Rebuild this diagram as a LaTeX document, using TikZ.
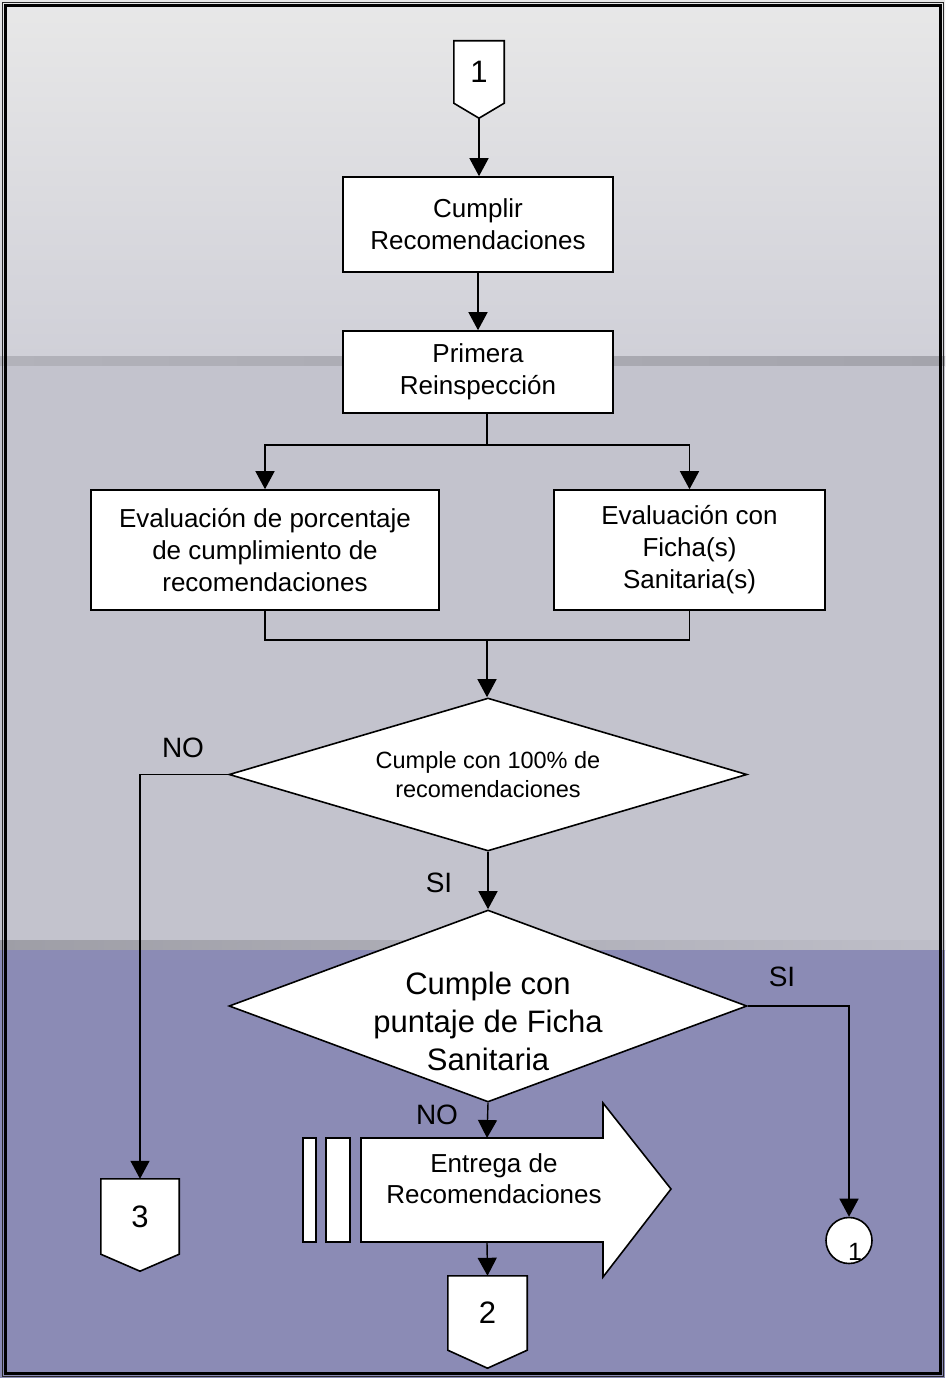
\documentclass[tikz,border=0pt]{standalone}
\usepackage{fontspec}
\setmainfont{Liberation Sans}
\usetikzlibrary{shapes.geometric,arrows.meta,calc}

\definecolor{bandTopA}{HTML}{E8E8E8}
\definecolor{bandTopB}{HTML}{D0D0D8}
\definecolor{seamA}{HTML}{B2B2BA}
\definecolor{seamB}{HTML}{A4A4AC}
\definecolor{bandMid}{HTML}{C3C3CD}
\definecolor{seamC}{HTML}{9E9EA6}
\definecolor{seamD}{HTML}{BEBEC8}
\definecolor{bandLow}{HTML}{8B8BB5}

\pgfdeclarelayer{bands}
\pgfdeclarelayer{shapes}
\pgfsetlayers{bands,shapes,main}

\begin{document}
\begin{tikzpicture}[x=1pt,y=-1pt,
  box/.style={draw, line width=1.6pt, fill=white, align=center,
    font=\fontsize{26}{32}\selectfont, inner sep=0pt},
  decide/.style={draw, line width=1.6pt, fill=white, shape=diamond,
    shape aspect=3.4, inner sep=0pt, align=center},
  plain/.style={inner sep=0pt, align=center},
  num/.style={plain, font=\fontsize{31}{34}\selectfont},
  lbl/.style={plain, font=\fontsize{28}{32}\selectfont},
  shp/.style={draw, line width=1.6pt, fill=white},
  conn/.style={line width=1.4pt},
  arr/.style={conn, -{Triangle[length=18pt,width=19pt]}}]

\useasboundingbox (0,0) rectangle (945,1378);

% ---------- background bands ----------
\begin{pgfonlayer}{bands}
  \shade[top color=bandTopA, bottom color=bandTopB] (0,0) rectangle (945,356);
  \shade[left color=seamA, right color=seamB] (0,356) rectangle (945,366);
  \fill[bandMid] (0,366) rectangle (945,940);
  \shade[left color=seamC, right color=seamD] (0,940) rectangle (945,950);
  \fill[bandLow] (0,950) rectangle (945,1378);
  % double frame
  \draw[line width=1pt, black!85] (2.5,2.5) rectangle (943,1376.5);
  \draw[line width=3pt] (5.5,5.5) rectangle (940,1373);
\end{pgfonlayer}

% ---------- nodes ----------
\node[num, minimum width=50pt, minimum height=62pt] (c1) at (479,72) {1};
\coordinate (c1tip) at ($(c1.south)+(0,15)$);

\node[box, minimum width=270pt, minimum height=95pt] (cumplir) at (478,224.5)
  {Cumplir\\Recomendaciones};
\node[box, minimum width=270pt, minimum height=82pt] (primera) at (478,372)
  {Primera\\Reinspección};

\node[box, minimum width=348pt, minimum height=120pt] (evalP) at (265,550)
  {Evaluación de porcentaje\\de cumplimiento de\\recomendaciones};
\node[box, minimum width=271pt, minimum height=120pt] (evalF) at (689.5,550)
  {Evaluación con\\Ficha(s)\\Sanitaria(s)};

\node[decide, minimum width=518pt, minimum height=153pt,
  font=\fontsize{23.5}{29}\selectfont] (d1) at (488,774.5)
  {Cumple con 100\% de\\recomendaciones};

\node[decide, minimum width=518pt, minimum height=192pt] (d2) at (488,1006) {};
\node[plain, font=\fontsize{31}{38}\selectfont] (d2txt) at (488,1021)
  {Cumple con\\puntaje de Ficha\\Sanitaria};

\node[num, minimum width=78pt, minimum height=75pt] (c3) at (140,1216.5) {3};
\coordinate (c3tip) at ($(c3.south)+(0,17)$);

\node[plain, font=\fontsize{26}{31}\selectfont] (entrega) at (494,1179)
  {Entrega de\\Recomendaciones};
\coordinate (etop) at (487,1138);
\coordinate (ebot) at (487,1242);

\node[num, minimum width=79pt, minimum height=74pt] (c2) at (487.5,1313) {2};
\coordinate (c2tip) at ($(c2.south)+(0,18)$);

\node[draw, circle, line width=1.6pt, fill=white, minimum size=46pt,
  inner sep=0pt] (circ) at (849,1240.5) {};
\node[plain, font=\fontsize{25}{30}\selectfont] (circnum) at ($(circ.center)+(6,11)$) {1};

% ---------- outlined shapes behind the texts ----------
\begin{pgfonlayer}{shapes}
  \foreach \c in {c1,c3,c2}{
    \draw[shp] (\c.north west) -- (\c.north east) -- (\c.south east)
      -- (\c tip) -- (\c.south west) -- cycle;
  }
  % striped block arrow
  \draw[shp] (303,1138) rectangle (316,1242);
  \draw[shp] (326,1138) rectangle (350,1242);
  \draw[shp] (361,1138) -- (603,1138) -- (603,1103) -- (671,1189)
    -- (603,1277) -- (603,1242) -- (361,1242) -- cycle;
\end{pgfonlayer}

% ---------- connectors ----------
\draw[arr] (c1tip) -- (c1tip |- cumplir.north);
\draw[arr] (cumplir) -- (primera);

\coordinate (split) at (487,445);
\draw[conn] (primera.south -| split) -- (split);
\draw[arr] (split) -| (evalP.north);
\draw[arr] (split) -| (evalF.north);

\coordinate (join) at (487,640);
\draw[conn] (evalP.south) |- (join);
\draw[conn] (evalF.south) |- (join);
\draw[arr] (join) -- (join |- d1.north);

\draw[arr] (d1.west) -| (c3.north);
\draw[arr] (d1.south) -- (d2.north);
\draw[arr] (d2.east) -| (circ.north);
\draw[arr] (d2.south) -- (etop);
\draw[arr] (ebot) -- (c2.north);

% ---------- branch labels ----------
\node[lbl] (noA) at (183,748) {NO};
\node[lbl] (siA) at (439,883) {SI};
\node[lbl] (siB) at (782,977) {SI};
\node[lbl] (noB) at (437,1115) {NO};

\end{tikzpicture}
\end{document}
